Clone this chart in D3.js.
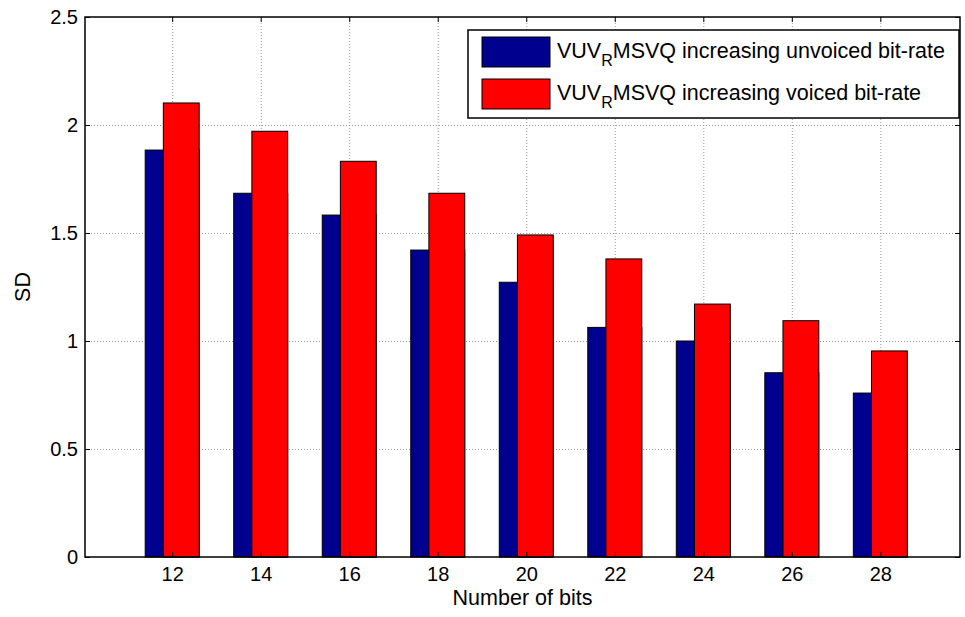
<!DOCTYPE html>
<html>
<head>
  <meta charset="utf-8" />
  <title>SD vs number of bits</title>
  <script src="https://d3js.org/d3.v7.min.js"></script>
  <style>
    body { margin: 0; background: white; }
    text { font-family: "Liberation Sans", Arial, sans-serif; fill: #000; }
  </style>
</head>
<body>
  <div id="chart"></div>
  <script>
    // values
    const bits = [12, 14, 16, 18, 20, 22, 24, 26, 28];
    const unvoiced = [1.884, 1.684, 1.583, 1.421, 1.272, 1.063, 1.0, 0.853, 0.759];
    const voiced = [2.102, 1.971, 1.832, 1.684, 1.491, 1.38, 1.171, 1.094, 0.954];
    const yTicks = [0, 0.5, 1, 1.5, 2, 2.5];
    const seriesNames = ["increasing unvoiced bit-rate", "increasing voiced bit-rate"];
    const seriesColors = ["#00008f", "#ff0000"];

    const width = 965, height = 617;
    const margin = { top: 17, right: 5, bottom: 60, left: 85 };
    const w = width - margin.left - margin.right;
    const h = height - margin.top - margin.bottom;

    const svg = d3.select("#chart")
      .append("svg")
      .attr("width", width)
      .attr("height", height);

    const g = svg.append("g")
      .attr("transform", `translate(${margin.left},${margin.top})`);

    const x = d3.scaleLinear().domain([10.03, 29.8]).range([0, w]);
    const y = d3.scaleLinear().domain([0, 2.5]).range([h, 0]);

    // grid
    const grid = g.append("g").attr("stroke", "#9a9a9a").attr("stroke-dasharray", "1,2");
    grid.selectAll(".gx").data(bits).enter().append("line")
      .attr("x1", d => x(d) + 0.5).attr("x2", d => x(d) + 0.5)
      .attr("y1", 0).attr("y2", h);
    grid.selectAll(".gy").data(yTicks.slice(1, -1)).enter().append("line")
      .attr("x1", 0).attr("x2", w)
      .attr("y1", d => y(d) + 0.5).attr("y2", d => y(d) + 0.5);

    // bars: blue is wide, red sits on its right part
    const half = 0.61, redLeft = 0.2;
    g.selectAll(".bu").data(bits).enter().append("rect")
      .attr("x", d => x(d - half))
      .attr("width", d => x(d + half) - x(d - half))
      .attr("y", (d, i) => y(unvoiced[i]))
      .attr("height", (d, i) => h - y(unvoiced[i]))
      .attr("fill", seriesColors[0])
      .attr("stroke", "#000").attr("stroke-width", 1);
    g.selectAll(".bv").data(bits).enter().append("rect")
      .attr("x", d => x(d - redLeft))
      .attr("width", d => x(d + half) - x(d - redLeft))
      .attr("y", (d, i) => y(voiced[i]))
      .attr("height", (d, i) => h - y(voiced[i]))
      .attr("fill", seriesColors[1])
      .attr("stroke", "#000").attr("stroke-width", 1);

    // axes on all four sides, ticks pointing inward
    const fs = "21.5px", tickFs = "20px";
    const xAxis = g.append("g").attr("transform", `translate(0,${h})`)
      .call(d3.axisBottom(x).tickValues(bits).tickSize(-5).tickPadding(10));
    const yAxis = g.append("g")
      .call(d3.axisLeft(y).tickValues(yTicks).tickSize(-5).tickPadding(7)
        .tickFormat(d3.format("")));
    const xTop = g.append("g")
      .call(d3.axisTop(x).tickValues(bits).tickSize(-5).tickFormat(""));
    const yRight = g.append("g").attr("transform", `translate(${w},0)`)
      .call(d3.axisRight(y).tickValues(yTicks).tickSize(-5).tickFormat(""));
    [xAxis, yAxis, xTop, yRight].forEach(a => {
      a.select(".domain").remove();
      a.selectAll("line").attr("stroke", "#000");
      a.selectAll("text").style("font-size", tickFs).attr("fill", "#000");
    });

    g.append("rect")
      .attr("width", w).attr("height", h)
      .attr("fill", "none").attr("stroke", "#000").attr("stroke-width", 1.5);

    // labels
    svg.append("text")
      .attr("x", margin.left + w / 2).attr("y", 605)
      .attr("text-anchor", "middle").style("font-size", fs)
      .text("Number of bits");
    svg.append("text")
      .attr("transform", `translate(30,${margin.top + h / 2}) rotate(-90)`)
      .attr("text-anchor", "middle").style("font-size", fs)
      .text("SD");

    // legend
    const leg = svg.append("g").attr("transform", "translate(468,30)");
    leg.append("rect")
      .attr("width", 491).attr("height", 88)
      .attr("fill", "white").attr("stroke", "#000").attr("stroke-width", 1.5);
    seriesNames.forEach((name, i) => {
      const row = leg.append("g").attr("transform", `translate(0,${7 + i * 42})`);
      row.append("rect")
        .attr("x", 14).attr("width", 68).attr("height", 30)
        .attr("fill", seriesColors[i]).attr("stroke", "#000");
      const t = row.append("text").attr("x", 89).attr("y", 21).style("font-size", fs);
      t.append("tspan").text("VUV");
      t.append("tspan").attr("dy", 8).style("font-size", "16px").text("R");
      t.append("tspan").attr("dy", -8).text("MSVQ " + name);
    });
  </script>
</body>
</html>
